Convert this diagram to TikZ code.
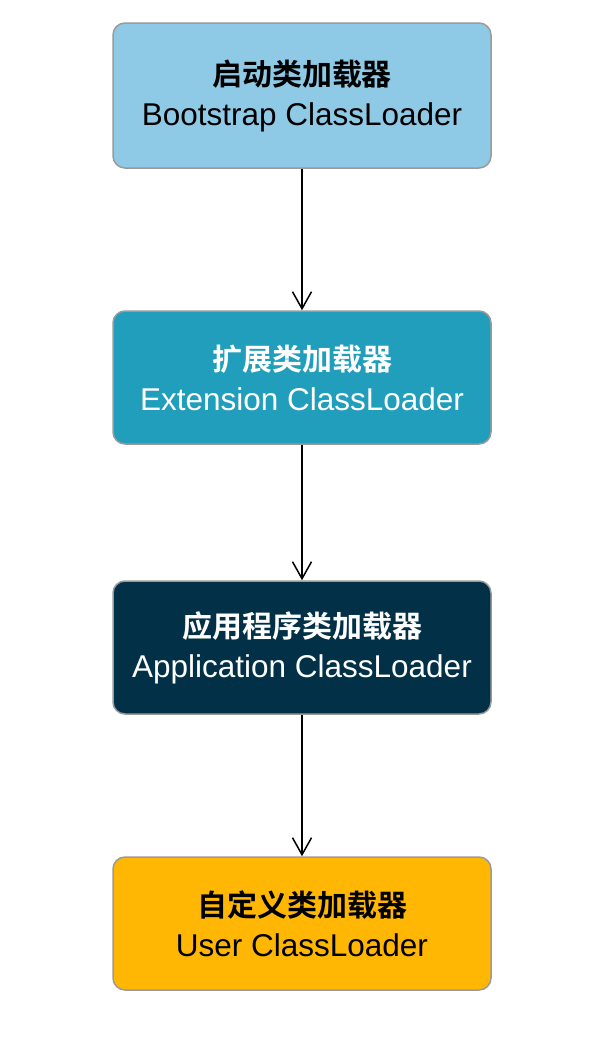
\documentclass[tikz,border=0pt]{standalone}
\usepackage{fontspec}
\setmainfont{Liberation Sans}
\newfontfamily\cjk{Noto Sans CJK SC}[BoldFont={* Bold}]
\usetikzlibrary{arrows.meta}
\usetikzlibrary{positioning}

\definecolor{bootblue}{HTML}{8ECAE6}
\definecolor{extblue}{HTML}{219EBC}
\definecolor{appnavy}{HTML}{023047}
\definecolor{useramber}{HTML}{FFB703}
\definecolor{edgegray}{HTML}{9A9A9A}

\tikzset{
loaderbox/.style={rectangle,rounded corners=12pt,draw=edgegray,line width=1.5pt,minimum width=378pt,align=center,inner sep=0pt,font=\fontsize{31.5}{40}\selectfont},
loaderarrow/.style={-{Straight Barb[length=17pt,width=19pt,line width=1.5pt]},line width=1.5pt,black},
}

\newcommand{\loadertext}[2]{{\fontsize{30}{40}\cjk\bfseries #1}\\#2}

\begin{document}
\begin{tikzpicture}[x=1pt,y=-1pt]
\useasboundingbox[fill=white] (0,0) rectangle (600,1042);
\node[loaderbox,fill=bootblue,minimum height=145pt,text=black] (boot) at (302,95.5) {\loadertext{启动类加载器}{Bootstrap ClassLoader}};
\node[loaderbox,fill=extblue,minimum height=133pt,text=white] (ext) at (302,377.5) {\loadertext{扩展类加载器}{Extension ClassLoader}};
\node[loaderbox,fill=appnavy,minimum height=133pt,text=white] (app) at (302,647.5) {\loadertext{应用程序类加载器}{Application ClassLoader}};
\node[loaderbox,fill=useramber,minimum height=133pt,text=black] (user) at (302,923.5) {\loadertext{自定义类加载器}{User ClassLoader}};

\draw[loaderarrow] (boot.south) -- (ext.north);
\draw[loaderarrow] (ext.south) -- (app.north);
\draw[loaderarrow] (app.south) -- (user.north);
\end{tikzpicture}
\end{document}
